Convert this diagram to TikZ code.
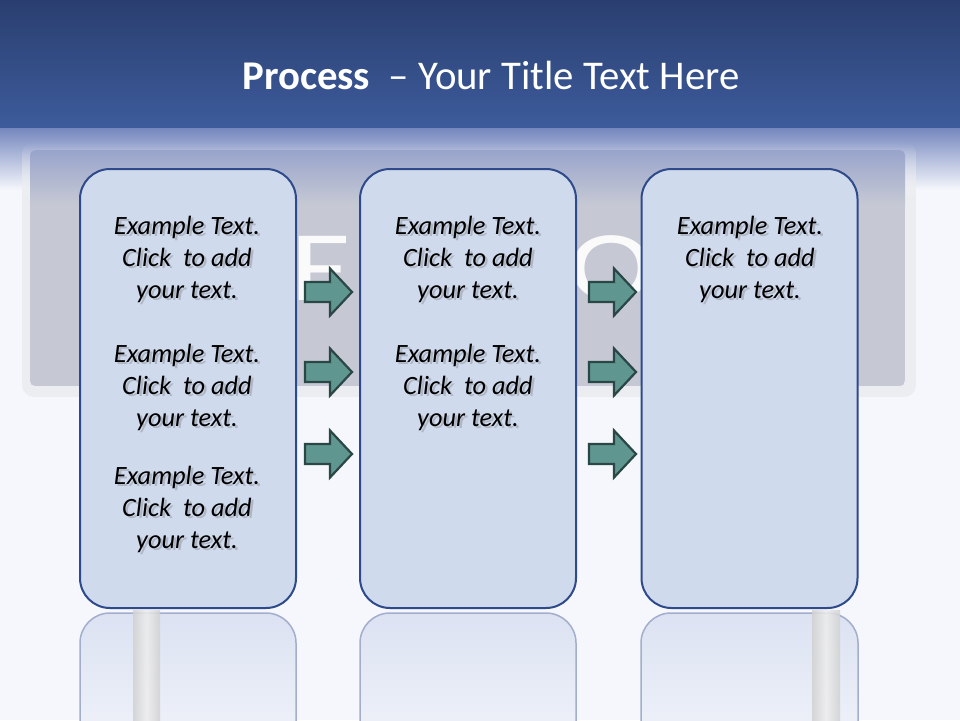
\documentclass[tikz,border=0pt]{standalone}
\usepackage{fontspec}
\setmainfont{Carlito}
\usetikzlibrary{fadings}
\definecolor{topblue}{HTML}{2A3F70}
\definecolor{midblue}{HTML}{3D5B9B}
\definecolor{fadeblue}{HTML}{7587BE}
\definecolor{paleBG}{HTML}{F5F7FC}
\definecolor{panelTop}{HTML}{98A4CB}
\definecolor{panelGray}{HTML}{C6C9D4}
\definecolor{haloGray}{HTML}{ECEDF1}
\definecolor{boxFill}{HTML}{D0DAED}
\definecolor{boxLine}{HTML}{2E4A8A}
\definecolor{arrFill}{HTML}{5F9690}
\definecolor{arrLine}{HTML}{2B4745}
\definecolor{reflLine}{HTML}{A3AECD}
\definecolor{reflFill}{HTML}{DCE2F2}
\tikzset{
  stepbox/.style={draw=boxLine, line width=2pt, fill=boxFill, rounded corners=30pt,
    minimum width=216pt, minimum height=439pt, inner sep=0pt},
  flowarrow/.style={draw=arrLine, line width=2.2pt, fill=arrFill, line join=miter},
  txt/.style={align=center, font=\itshape\fontsize{26.4}{32}\selectfont, inner sep=0pt},
  txtshadow/.style={txt, text=black!70, opacity=0.25},
  bigletter/.style={text=white, opacity=0.92, font=\fontsize{100}{100}\selectfont, inner sep=0pt, anchor=base west, xscale=1.3},
  pole/.style={left color=black!18, right color=black!18, middle color=black!7, opacity=0.85},
  refl/.style={draw=reflLine, line width=1.5pt, rounded corners=30pt, top color=reflFill, bottom color=paleBG}
}
\newcommand{\exampletext}{Example Text.\\Click~ to add\\your text.}
\newcommand{\blockarrow}[3]{%
  \coordinate (#1) at (#2,#3);
  \draw[flowarrow] ([shift={(-23,-10)}]#1) -- ([shift={(2,-10)}]#1) -- ([shift={(2,-23.5)}]#1)
    -- ([shift={(24,0)}]#1) -- ([shift={(2,23.5)}]#1) -- ([shift={(2,10)}]#1)
    -- ([shift={(-23,10)}]#1) -- cycle;}
\begin{document}
\begin{tikzpicture}[x=1pt,y=-1pt]
\useasboundingbox (0,0) rectangle (960,720);
% background
\fill[paleBG] (0,0) rectangle (960,720);
\shade[top color=topblue, bottom color=midblue] (0,0) rectangle (960,128);
\shade[top color=fadeblue, bottom color=paleBG] (0,128) rectangle (960,190);
% halo around panel, fading in from the top
\begin{scope}
  \clip[rounded corners=12pt] (22,142) rectangle (916,397);
  \fill[haloGray, path fading=north] (22,142) rectangle (916,200);
  \fill[haloGray] (22,199.5) rectangle (916,397);
\end{scope}
% panel
\begin{scope}
  \clip[rounded corners=5pt] (30,150) rectangle (905,386);
  \fill[panelGray] (30,150) rectangle (905,386);
  \shade[top color=panelTop, bottom color=panelGray] (30,150) rectangle (905,205);
\end{scope}
% big letters behind
\node[bigletter] (bigF) at (290,300) {F};
\node[bigletter] (bigO) at (568,300) {O};
% title
\node[text=white, inner sep=0pt] (title) at (491,75) {\fontsize{40.8}{40.8}\selectfont\textbf{Process}~ – Your Title Text Here};
% reflections
\begin{scope}
  \clip (0,611) rectangle (960,720);
  \path[refl] (80,613) rectangle (296,780);
  \path[refl] (360,613) rectangle (576,780);
  \path[refl] (641,613) rectangle (858,780);
\end{scope}
% poles
\shade[pole] (133,610) rectangle (160,720);
\shade[pole] (812,610) rectangle (840,720);
% boxes
\node[stepbox] (b1) at (188,388.5) {};
\node[stepbox] (b2) at (468,388.5) {};
\node[stepbox] (b3) at (749.5,388.5) {};
% arrows
\blockarrow{a11}{328}{292}
\blockarrow{a12}{328}{372}
\blockarrow{a13}{328}{454}
\blockarrow{a21}{612}{292}
\blockarrow{a22}{612}{372}
\blockarrow{a23}{612}{454}
% texts
\foreach \nm/\xx/\yy in {t11/187/259, t12/187/387, t13/187/509, t21/468/259, t22/468/387, t31/750/259}{
  \node[txtshadow] at (\xx+2.5,\yy+2.5) {\exampletext};
  \node[txt] (\nm) at (\xx,\yy) {\exampletext};
}
\end{tikzpicture}
\end{document}
